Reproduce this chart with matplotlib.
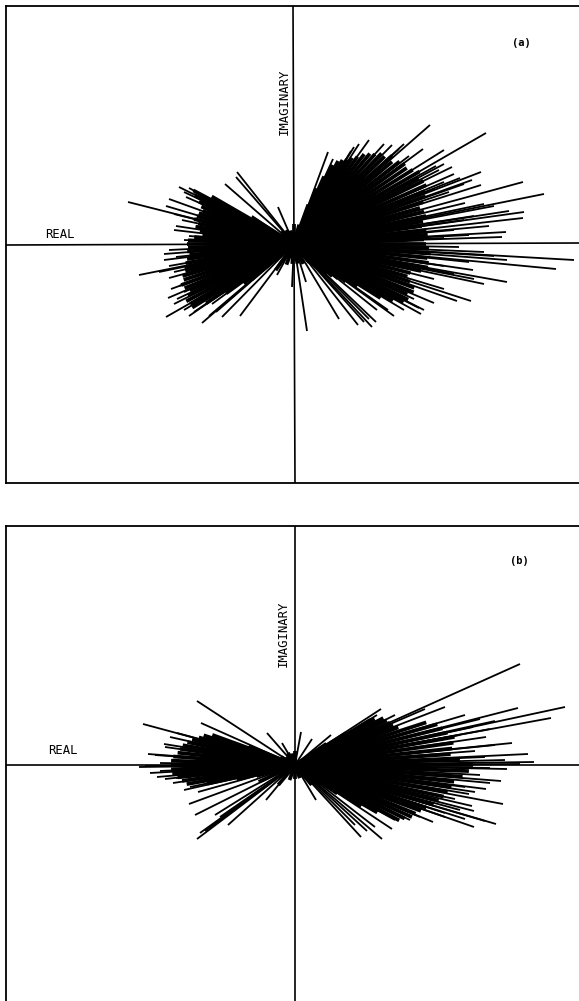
import numpy as np
import matplotlib
matplotlib.use("Agg")
import matplotlib.pyplot as plt

# Panel (a): outlying spokes, tip coordinates (real, imaginary)
a_tip_re = [136,192,150,129,98,75,57,34,39,158,142,187,166,178,187,229,250,171,230,229,212,208,
            280,262,213,213,190,179,177,163,140,127,94,83,82,78,64,45,13,12,-2,
            -166,-128,-115,-105,-108,-118,-105,-69,-57,-58,-16,-42,-130,-130,-155,-123,-126,-117,
            -128,-92,-82,-72,-54,-17,
            150,145,160,150,170,155,140,190,200,215,180,170,195,160,175,150,165,190,200,175,150,160,180,140,150,
            120,125,130,110,100,75,70,115,105,110,90,65,60,
            -125,-110,-100,-95,-120,-112,-120,-110,-125,-118,-125,-120,-135,-125,-115,-110,-120,-110,-105,-100,-85,-78]
a_tip_im = [119,111,94,95,99,104,93,92,85,77,78,72,66,64,59,62,50,41,32,26,12,7,
            -16,-25,-16,-38,-40,-26,-57,-57,-59,-70,-66,-66,-78,-83,-81,-75,-87,-38,-43,
            42,38,57,56,47,18,8,60,72,67,37,28,-10,-16,-31,-45,-54,-55,
            -73,-79,-60,-73,-72,-31,
            80,74,70,62,60,52,55,40,38,33,28,24,18,14,9,6,-3,-8,-12,-18,-22,-30,-35,-35,-45,
            -55,-64,-66,-66,-72,-75,-78,88,95,100,100,100,97,
            45,52,50,48,30,24,14,4,-6,-13,-22,-28,-28,-34,-42,-48,-60,-66,-72,-68,-72,-68]
# Panel (a): dense body of spokes, angle (deg) and modulus
a_body_deg = [-50,-48,-46,-44,-42,-40,-38,-36,-34,-32,-30,-28,-26,-24,-22,-20,-18,-16,-14,-12,-10,
              -8,-6,-4,-2,0,2,4,6,8,10,12,14,16,18,20,22,24,26,28,30,32,34,36,38,40,42,44,46,48,50,
              52,54,56,58,60,62,64,66,68,70,
              148,150,152,154,156,158,160,162,164,166,168,170,172,174,176,178,180,182,184,186,188,
              190,192,194,196,198,200,202,204,206,208,210,212,214,216,218,
              75,90,105,120,135,220,235,250,265,280,295,310]
a_body_mod = [24,26,33,38,44,50,56,64,76,102,114,124,127,124,129,128,122,118,120,130,136,
              136,134,137,135,132,130,134,133,129,131,135,134,131,136,140,141,145,144,141,145,140,136,137,134,128,132,126,126,121,118,
              114,108,104,100,97,94,88,74,60,42,
              50,95,114,110,104,100,97,100,101,103,98,100,95,92,100,106,107,106,107,105,108,
              110,112,112,116,116,120,118,114,118,122,120,120,106,84,64,
              20,20,14,16,18,55,32,22,20,20,22,24]

# Panel (b): outlying spokes
b_tip_re = [225,86,223,270,256,191,217,233,239,212,206,191,174,208,201,179,177,179,138,97,87,66,21,
            -98,-94,-152,-131,-147,-156,-145,-138,-119,-111,-97,-106,-100,-80,-98,-67,-29,-28,-13,6,17,36,
            130,150,170,185,200,178,195,165,150,200,180,190,210,225,195,185,195,170,180,160,165,150,170,190,150,
            125,115,100,80,72,60,100,82,75,
            -125,-118,-130,-140,-135,-150,-135,-130,-122,-105,-95,-90,-85,-75]
b_tip_im = [101,56,57,58,47,28,22,11,3,-4,-16,-24,-29,-39,-59,-62,-41,-46,-57,-64,-74,-72,-35,
            64,42,41,21,11,-2,-8,-12,-13,-25,-27,-39,-50,-50,-74,-60,-35,32,22,33,26,30,
            56,58,50,46,44,38,36,30,26,20,14,8,5,1,-3,-10,-18,-22,-27,-34,-45,-48,-54,-56,-52,
            -52,-55,-55,-62,-66,-60,50,50,46,
            28,32,18,10,2,-1,-6,-14,-18,-22,-68,-66,-62,-52]
# Panel (b): dense body of spokes
b_body_deg = [-36,-34,-32,-30,-28,-26,-24,-22,-20,-18,-16,-14,-12,-10,-8,-6,-4,-2,0,2,4,6,8,10,12,14,16,18,20,22,24,26,28,30,32,34,
              158,160,162,164,166,168,170,172,174,176,178,180,182,184,186,188,190,192,194,196,
              90,105,120,135,150,205,230,250,270,290,310]
b_body_mod = [32,51,78,95,118,122,128,130,134,138,144,148,152,155,158,160,168,174,178,165,156,158,160,162,156,152,148,138,110,106,104,102,100,92,60,38,
              50,88,96,100,106,110,114,116,118,122,124,124,124,123,118,114,110,90,60,40,
              14,12,14,12,16,40,26,16,14,14,26]

# Coordinate axes: (real, imaginary) ends of each drawn axis
a_h_re, a_h_im = [-288, 285], [-1, 1]
a_v_re, a_v_im = [-1, 1], [238, -239]
b_h_re, b_h_im = [-289, 285], [0, 0]
b_v_re, b_v_im = [0, 0], [239, -236]

W, H = 579, 1001
fig = plt.figure(figsize=(W/100, H/100), dpi=100, facecolor="white")


def panel(left, top, right, bottom, cx, cy, tre, tim, deg, mod, hx, hy, vx, vy, bottom_on):
    ax = fig.add_axes([left/W, 1-bottom/H, (right-left)/W, (bottom-top)/H])
    ax.set_xlim(left-cx, right-cx)
    ax.set_ylim(cy-bottom, cy-top)
    ax.set_xticks([]); ax.set_yticks([])
    for s in ax.spines.values():
        s.set_linewidth(1.3)
    ax.spines["right"].set_visible(False)
    ax.spines["bottom"].set_visible(bottom_on)
    ax.plot(hx, hy, color="black", lw=1.2, solid_capstyle="butt")
    ax.plot(vx, vy, color="black", lw=1.2, solid_capstyle="butt")
    rad = np.deg2rad(np.array(deg, float))
    m = np.array(mod, float)
    for re, im in zip(m*np.cos(rad), m*np.sin(rad)):
        ax.plot([0, re], [0, im], color="black", lw=2.7, solid_capstyle="butt")
    for re, im in zip(tre, tim):
        ax.plot([0, re], [0, im], color="black", lw=1.3, solid_capstyle="butt")
    return ax


ax_a = panel(6, 6, 579, 483, 294, 244, a_tip_re, a_tip_im, a_body_deg, a_body_mod,
             a_h_re, a_h_im, a_v_re, a_v_im, True)
ax_b = panel(6, 526, 579, 1001, 295, 765, b_tip_re, b_tip_im, b_body_deg, b_body_mod,
             b_h_re, b_h_im, b_v_re, b_v_im, False)

mono = "DejaVu Sans Mono"
ax_a.text(-234, 10, "REAL", family=mono, fontsize=8.8, ha="center", va="center")
ax_a.text(-10, 142, "IMAGINARY", family=mono, fontsize=8.8, rotation=90, ha="center", va="center")
ax_a.text(227, 201, "(a)", family=mono, fontsize=7.5, weight="bold", ha="center", va="center")
ax_b.text(-232, 15, "REAL", family=mono, fontsize=8.8, ha="center", va="center")
ax_b.text(-12, 131, "IMAGINARY", family=mono, fontsize=8.8, rotation=90, ha="center", va="center")
ax_b.text(224, 204, "(b)", family=mono, fontsize=7.5, weight="bold", ha="center", va="center")

fig.savefig("out.png", dpi=100)
